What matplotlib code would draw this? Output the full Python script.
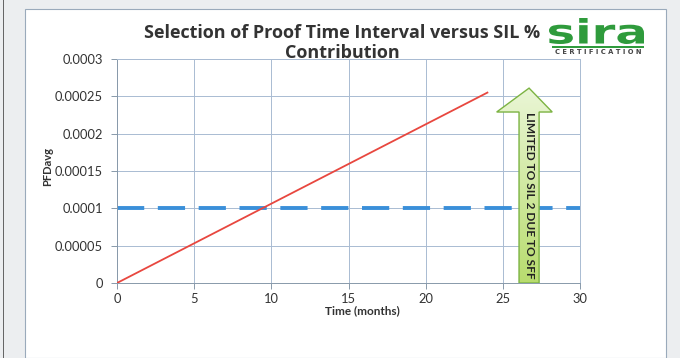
import numpy as np
import matplotlib
matplotlib.use("Agg")
import matplotlib.pyplot as plt
from matplotlib.patches import Polygon, Rectangle, PathPatch
from matplotlib.colors import LinearSegmentedColormap
from matplotlib.textpath import TextPath
from matplotlib.font_manager import FontProperties
from matplotlib.transforms import Affine2D, IdentityTransform

plt.rcParams['font.family'] = ['Lato', 'DejaVu Sans']

# data
months = [0, 24]
pfd_avg = [0, 0.000255]
sil_target = 0.0001
x_ticks = [0, 5, 10, 15, 20, 25, 30]
y_ticks = [0, 0.00005, 0.0001, 0.00015, 0.0002, 0.00025, 0.0003]
y_tick_labels = ['0', '0.00005', '0.0001', '0.00015', '0.0002', '0.00025', '0.0003']

fig = plt.figure(figsize=(6.8, 3.58), dpi=100)
fig.patch.set_facecolor('#eceef0')

# white page panel
fig.patches.append(Rectangle((25 / 680, 0), (666 - 25) / 680, 1 - 9 / 358,
                             transform=fig.transFigure, facecolor='white',
                             edgecolor='#9aaabb', linewidth=0.8, zorder=-10))
fig.patches.append(Rectangle((3 / 680, 0), 0.002, 1, transform=fig.transFigure,
                             facecolor='#666666', edgecolor='none', zorder=-10))

ax = fig.add_axes([117 / 680, 1 - 283 / 358, (580 - 117) / 680, (283 - 59) / 358])
ax.set_facecolor('none')

ax.plot(months, pfd_avg, color='#e8473f', linewidth=1.3, zorder=3)
ax.axhline(sil_target, color='#3a8fd9', linewidth=2.8, dashes=(7, 3.5), zorder=2)

ax.set_xlim(0, 30)
ax.set_ylim(0, 0.0003)
ax.set_xticks(x_ticks)
ax.set_xticklabels([str(t) for t in x_ticks])
ax.set_yticks(y_ticks)
ax.set_yticklabels(y_tick_labels)
ax.grid(True, color='#a9bbd2', linewidth=0.7)
for s in ax.spines.values():
    s.set_color('#a9bbd2')
    s.set_linewidth(0.7)
ax.spines['left'].set_color('#8899aa')
ax.spines['bottom'].set_color('#8899aa')
ax.tick_params(colors='#8899aa', labelcolor='#333333', labelsize=9.3, length=4, width=0.7)
ax.tick_params(axis='y', pad=6)

ax.set_ylabel('PFDavg', fontsize=8, fontweight='bold', color='#333333')
ax.yaxis.set_label_coords(-0.138, 0.52)
ax.set_xlabel('Time (months)', fontsize=8.5, fontweight='bold', color='#333333')
ax.xaxis.set_label_coords(0.529, -0.098)

# green arrow annotation
ax_l, ax_r, hd_l, hd_r = 26.05, 27.35, 24.6, 28.2
head_base, tip = 0.000229, 0.000261
arrow_pts = [(ax_l, 0), (ax_r, 0), (ax_r, head_base), (hd_r, head_base),
             ((ax_l + ax_r) / 2, tip), (hd_l, head_base), (ax_l, head_base)]
arrow = Polygon(arrow_pts, closed=True, facecolor='none', edgecolor='#7cb342',
                linewidth=1.0, zorder=5)
ax.add_patch(arrow)
cmap = LinearSegmentedColormap.from_list('g', ['#b8dc6e', '#eaf6d6'])
grad = np.linspace(0, 1, 256).reshape(-1, 1)
img = ax.imshow(grad, cmap=cmap, origin='lower', aspect='auto',
                extent=(hd_l, hd_r, 0, tip), zorder=4)
img.set_clip_path(arrow)
ax.set_xlim(0, 30)
ax.set_ylim(0, 0.0003)
ax.text((ax_l + ax_r) / 2, 0.000117, 'LIMITED TO SIL 2 DUE TO SFF', rotation=-90,
        ha='center', va='center', fontsize=8.6, fontweight='bold', color='#222222', zorder=6)

fig.text(342 / 680, 1 - 43 / 358, 'Selection of Proof Time Interval versus SIL %\nContribution',
         ha='center', va='center', fontsize=13, fontweight='bold', color='#333333',
         linespacing=1.2, family=['Open Sans', 'DejaVu Sans'])

# sira logo, stretched to fit its box (pixels, origin bottom-left)
logo = TextPath((0, 0), 'sira', size=1, prop=FontProperties(family='DejaVu Sans', weight='bold'))
ext = logo.get_extents()
x0, x1, y0, y1 = 549, 644, 358 - 44, 358 - 18
tr = (Affine2D().translate(-ext.x0, -ext.y0)
      .scale((x1 - x0) / ext.width, (y1 - y0) / ext.height)
      .translate(x0, y0))
fig.patches.append(PathPatch(tr.transform_path(logo), transform=IdentityTransform(),
                             facecolor='#2f9b3c', edgecolor='none'))
fig.patches.append(Rectangle((552 / 680, 1 - 47.5 / 358), 92 / 680, 1.6 / 358,
                             transform=fig.transFigure, facecolor='#2f9b3c', edgecolor='none'))
fig.text(598 / 680, 1 - 52.5 / 358, 'C E R T I F I C A T I O N', ha='center', va='center',
         fontsize=4.9, fontweight='bold', color='#444444', family=['DejaVu Sans'])

fig.savefig('out.png', dpi=100, facecolor=fig.get_facecolor())
